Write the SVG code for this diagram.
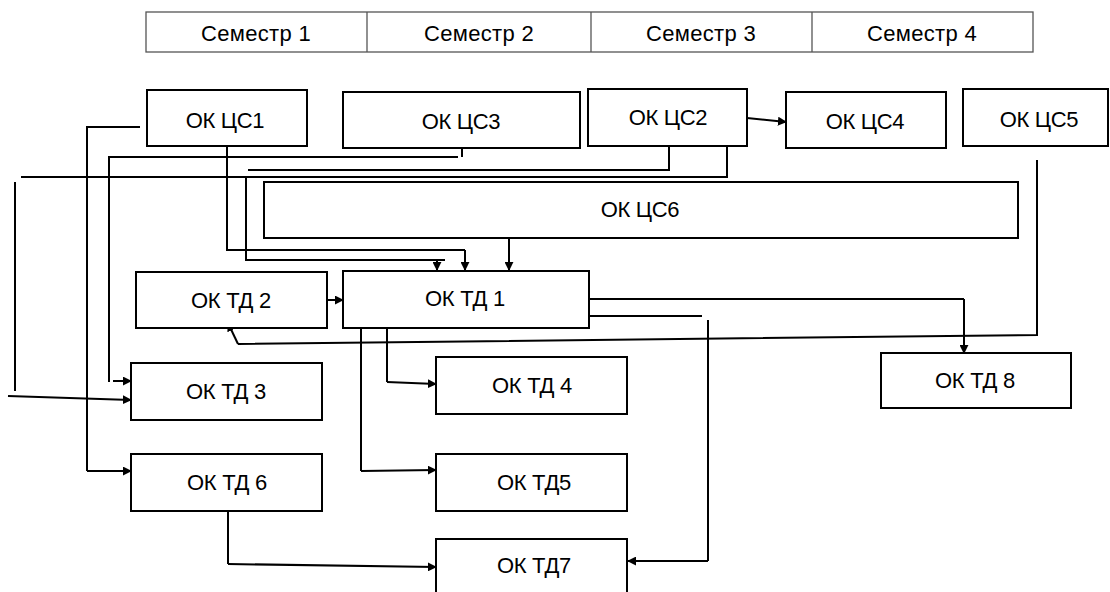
<svg xmlns="http://www.w3.org/2000/svg" width="1110" height="592" viewBox="0 0 1110 592">
<defs>
<style>
.box{fill:#fff;stroke:#000;stroke-width:2}
.tbl{fill:#fff;stroke:#555;stroke-width:1.3}
.lbl{font-family:"Liberation Sans",Arial,sans-serif;font-size:22px;fill:#000;text-anchor:middle;letter-spacing:-0.3px}
.sem{font-family:"Liberation Sans",Arial,sans-serif;font-size:22px;fill:#000;text-anchor:middle;letter-spacing:0.3px}
.ln{fill:none;stroke:#000;stroke-width:2}
.ar{fill:none;stroke:#000;stroke-width:2;marker-end:url(#ah)}
</style>
<marker id="ah" viewBox="0 0 10 10" refX="9" refY="5" markerWidth="4.5" markerHeight="4.5" orient="auto" markerUnits="strokeWidth">
<path d="M0,0 L10,5 L0,10 Z" fill="#000"/>
</marker>
</defs>
<g id="semesters">
<rect class="tbl" x="146" y="12" width="887" height="40"/>
<line x1="367" y1="12" x2="367" y2="52" stroke="#555" stroke-width="1.3"/>
<line x1="591" y1="12" x2="591" y2="52" stroke="#555" stroke-width="1.3"/>
<line x1="812" y1="12" x2="812" y2="52" stroke="#555" stroke-width="1.3"/>
<text class="sem" x="256" y="41">Семестр 1</text>
<text class="sem" x="479" y="41">Семестр 2</text>
<text class="sem" x="701" y="41">Семестр 3</text>
<text class="sem" x="922" y="41">Семестр 4</text>
</g>
<g id="connectors">
<path class="ln" d="M140,127 H87 V471"/>
<path class="ar" d="M87,471 H131"/>
<path class="ln" d="M462,148 V157 M458,157 H109 V382"/>
<path class="ar" d="M113,381 H131"/>
<path class="ln" d="M669,146 V170 H248"/>
<path class="ln" d="M727,143 V177 H21"/>
<path class="ln" d="M15,182 V391"/>
<path class="ar" d="M8,396 L131,400"/>
<path class="ln" d="M246,177 V260 H445"/>
<path class="ar" d="M437,260 V270"/>
<path class="ln" d="M227,146 V250 H465"/>
<path class="ar" d="M465,250 V270"/>
<path class="ar" d="M509,238 V270"/>
<path class="ar" d="M747,118 L786,122"/>
<path class="ln" d="M1037,160 V335 L238,344"/>
<path class="ar" d="M238,344 L228,323"/>
<path class="ar" d="M327,300 H343"/>
<path class="ln" d="M589,299 H964"/>
<path class="ar" d="M964,299 V353"/>
<path class="ln" d="M589,316 H702"/>
<path class="ln" d="M708,320 V561"/>
<path class="ar" d="M708,561 H628"/>
<path class="ln" d="M387,328 V382"/>
<path class="ar" d="M387,382 L436,384"/>
<path class="ln" d="M361,328 V471"/>
<path class="ar" d="M361,471 L436,470"/>
<path class="ln" d="M228,511 V564"/>
<path class="ar" d="M228,564 L436,567"/>
</g>
<g id="ok-cs1"><rect class="box" x="147" y="90" width="160" height="56"/><text class="lbl" x="225" y="128">ОК ЦС1</text></g>
<g id="ok-cs3"><rect class="box" x="343" y="92" width="237" height="56"/><text class="lbl" x="461" y="129">ОК ЦС3</text></g>
<g id="ok-cs2"><rect class="box" x="588" y="89" width="159" height="57"/><text class="lbl" x="668" y="125">ОК ЦС2</text></g>
<g id="ok-cs4"><rect class="box" x="786" y="92" width="160" height="56"/><text class="lbl" x="865" y="129">ОК ЦС4</text></g>
<g id="ok-cs5"><rect class="box" x="963" y="89" width="145" height="57"/><text class="lbl" x="1039" y="127">ОК ЦС5</text></g>
<g id="ok-cs6"><rect class="box" x="264" y="182" width="754" height="56"/><text class="lbl" x="640" y="217">ОК ЦС6</text></g>
<g id="ok-td2"><rect class="box" x="136" y="272" width="191" height="56"/><text class="lbl" x="231" y="308">ОК ТД 2</text></g>
<g id="ok-td1"><rect class="box" x="343" y="271" width="246" height="57"/><text class="lbl" x="465" y="306">ОК ТД 1</text></g>
<g id="ok-td3"><rect class="box" x="131" y="363" width="191" height="57"/><text class="lbl" x="226" y="399">ОК ТД 3</text></g>
<g id="ok-td4"><rect class="box" x="436" y="357" width="191" height="57"/><text class="lbl" x="532" y="393">ОК ТД 4</text></g>
<g id="ok-td8"><rect class="box" x="881" y="353" width="190" height="55"/><text class="lbl" x="975" y="388">ОК ТД 8</text></g>
<g id="ok-td6"><rect class="box" x="131" y="454" width="191" height="57"/><text class="lbl" x="227" y="490">ОК ТД 6</text></g>
<g id="ok-td5"><rect class="box" x="436" y="454" width="191" height="57"/><text class="lbl" x="534" y="490">ОК ТД5</text></g>
<g id="ok-td7"><rect class="box" x="436" y="539" width="191" height="60"/><text class="lbl" x="534" y="573">ОК ТД7</text></g>
</svg>
